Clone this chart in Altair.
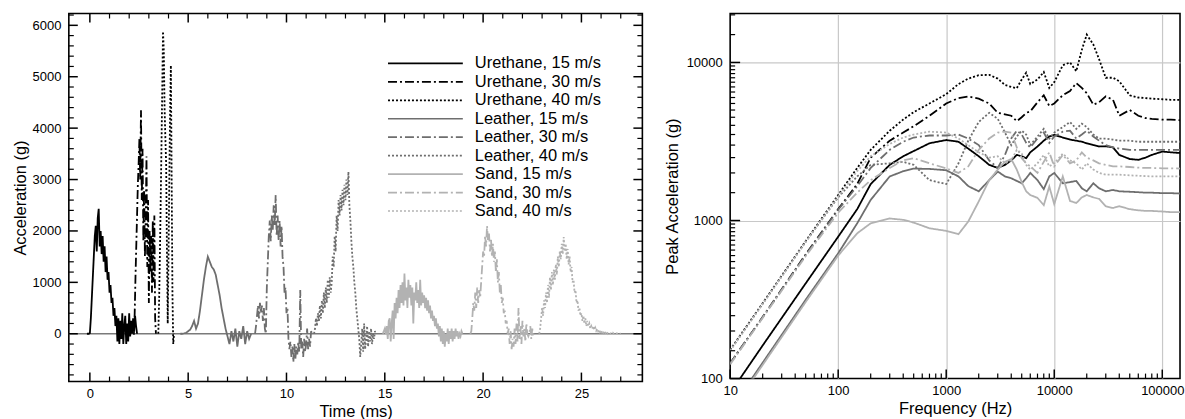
import altair as alt
import pandas as pd

FONT = "Liberation Sans"
TICK_COLOR = "#000000"

SERIES = ["Urethane, 15 m/s", "Urethane, 30 m/s", "Urethane, 40 m/s",
          "Leather, 15 m/s", "Leather, 30 m/s", "Leather, 40 m/s",
          "Sand, 15 m/s", "Sand, 30 m/s", "Sand, 40 m/s"]
COLORS = ["#000000", "#000000", "#000000",
          "#6e6e6e", "#6e6e6e", "#6e6e6e",
          "#b2b2b2", "#b2b2b2", "#b2b2b2"]
DASHES = [[1, 0], [9, 3, 2, 3], [2, 2],
          [1, 0], [9, 3, 2, 3], [2, 2],
          [1, 0], [9, 3, 2, 3], [2, 2]]

U15_T0, U15_DT = -0.15, 0.05
U15_ACC = [0, 0, 0, 10, 300, 700, 1100, 1500, 1900, 2100, 1600, 2250, 2430, 1700, 2000, 1550,
           1900, 1400, 1700, 1200, 1500, 1050, 1200, 800, 950, 600, 700, 350, 500, 150, 350,
           -150, 300, -200, 250, -100, 400, -200, 150, 350, -200, 200, -150, 400, -50, 250,
           0, 300, 50, 350, 150, 0]
U30_T0, U30_DT = 2.20, 0.04
U30_ACC = [0, 0, 400, 1100, 1700, 2300, 2900, 3300, 3800, 3000, 4350, 2600, 3600, 1800, 2800,
           1500, 2200, 3450, 1300, 2600, 600, 2000, 1200, 1900, 800, 2200, 1000, 2300, 300, 0]
U40_T0, U40_DT = 3.48, 0.04
U40_ACC = [0, 600, 1500, 2500, 3600, 4700, 5880, 5500, 4400, 3800, 3300, 1600, 200, 1500,
           3000, 4300, 5220, 3000, 800, -200, 0]
L15_T0, L15_DT = 4.6, 0.1
L15_ACC = [0, 0, 10, 20, 50, 80, 150, 250, 100, 200, 450, 750, 1050, 1300, 1500, 1400, 1300,
           1250, 1150, 950, 750, 500, 300, 100, -50, -200, 50, -150, 100, -250, 50, -100, 150,
           -200, 50, -100, 0]
L30_T0, L30_DT = 8.40, 0.05
L30_ACC = [0, 150, 350, 550, 300, 600, 400, 550, 250, 500, 100, 0, 900, 1400, 1900, 2200,
           1800, 2300, 2000, 2500, 2100, 2700, 1900, 2300, 1800, 2200, 1700, 2100, 1500, 1300,
           800, 900, 400, 500, -100, -300, -150, -450, -250, -550, -200, -500, -250, -400,
           -150, -350, 850, -300, -150, -450, -100, -350, -200, 100, -300, -100, -250, 50, 0]
L40_T0, L40_DT = 11.40, 0.05
L40_ACC = [0, 100, 300, 150, 400, 250, 550, 300, 650, 400, 800, 500, 900, 600, 1050, 700, 1100,
           800, 1000, 1500, 1300, 1900, 1600, 2300, 2000, 2600, 2300, 2700, 2400, 2800, 2500,
           2900, 2600, 3000, 2700, 3150, 2500, 2200, 1800, 1500, 1300, 1000, 800, 500, 300, 100,
           -100, -450, -200, 100, -350, 200, -300, -100, 150, -250, 50, -150, 100, -200, 0,
           -100, 50, 0]
S15_T0, S15_DT = 14.90, 0.05
S15_ACC = [0, 50, 100, 0, 150, -100, 250, 300, -150, 200, 450, -100, 600, 300, 700, 400, 850,
           500, 950, 600, 1000, 550, 1170, 650, 900, 500, 1050, 700, 950, 550, 900, 200, 800,
           650, 1000, 600, 850, 500, 1050, 550, 800, 600, 750, 500, 700, 450, 650, 400, 550,
           300, 450, 250, 350, 150, 300, 100, 200, -50, 150, -150, 100, -200, 50, -250, 0,
           -150, 100, -200, 50, -100, 100, -150, 50, -100, 100, -50, 50, -100, 0, -50, 50, 0]
S30_T0, S30_DT = 19.35, 0.05
S30_ACC = [0, 50, 300, 600, 450, 800, 500, 900, 600, 850, 700, 1000, 1300, 1600, 1500, 1900,
           1700, 2100, 1800, 1950, 1600, 1850, 1500, 1750, 1400, 1600, 1200, 1450, 1000, 1200,
           800, 950, 600, 700, 400, 450, 200, 250, 0, 100, -200, 50, -300, -100, -250, 100,
           -200, 200, -150, 500, -100, 150, -200, 250, -50, 100, -150, 200, 0, -50, 0, 150,
           -100, 100, -50, 0]
S40_T0, S40_DT = 22.85, 0.05
S40_ACC = [0, 100, 300, 500, 350, 650, 500, 800, 600, 950, 700, 1100, 850, 1200, 950, 1250,
           1050, 1350, 1150, 1500, 1300, 1600, 1450, 1750, 1550, 1880, 1600, 1750, 1450, 1650,
           1350, 1500, 1200, 1300, 1000, 1050, 800, 850, 600, 650, 450, 500, 350, 400, 250,
           350, 200, 300, 150, 250, 150, 200, 100, 150, 100, 150, 80, 120, 60, 100, 50, 80, 30,
           60, 20, 50, 10, 40, 0, 30, 0, 20, 0, 10, 0, 20, 0, 10, 0, 10, 0, 0, 0, 0]

SRS_FREQ = [10, 20, 50, 100, 150, 200, 300, 400, 500, 700, 1000, 1300, 1600, 2000, 2500, 3000,
            3500, 4000, 4500, 5000, 5500, 6000, 7000, 8000, 9000, 10000, 12000, 14000, 16000,
            18000, 20000, 23000, 26000, 30000, 35000, 40000, 50000, 60000, 70000, 80000,
            100000, 120000, 150000]
SRS_U15 = [81, 162, 400, 790, 1180, 1700, 2250, 2550, 2750, 3080, 3230, 3150, 2850, 2550, 2250,
           2150, 2250, 2400, 2600, 2550, 2480, 2700, 2940, 3200, 3400, 3480, 3350, 3250, 3200,
           3150, 3080, 3000, 2940, 2950, 2900, 2600, 2450, 2420, 2500, 2600, 2730, 2700, 2670]
SRS_U30 = [125, 245, 610, 1180, 1700, 2500, 3200, 3600, 3950, 4600, 5500, 5950, 6100, 5900,
           5500, 4800, 4700, 4600, 4250, 4500, 4800, 4900, 5600, 6200, 5300, 5500, 6200, 6600,
           7400, 6900, 6400, 5400, 5600, 6100, 5800, 4600, 5000, 4600, 4450, 4400, 4350, 4350,
           4300]
SRS_U40 = [152, 300, 740, 1450, 2150, 2800, 3700, 4350, 4850, 5500, 6300, 7300, 7900, 8300,
           8350, 7900, 7200, 7000, 6870, 7800, 8600, 7300, 7800, 8700, 6900, 7500, 9600, 10000,
           8800, 12000, 15000, 13000, 10500, 8000, 8000, 7600, 6200, 6000, 5950, 5900, 5850,
           5800, 5800]
SRS_L15 = [63, 126, 315, 620, 960, 1350, 1900, 2050, 2130, 2120, 2080, 1900, 1650, 1530, 1800,
           2040, 1900, 1850, 1780, 1720, 1850, 2000, 1800, 1580, 1900, 2000, 1720, 1750, 1780,
           1600, 1530, 1720, 1600, 1530, 1560, 1530, 1520, 1510, 1500, 1500, 1490, 1490, 1480]
SRS_L30 = [125, 245, 605, 1170, 1650, 2150, 2800, 3150, 3350, 3450, 3450, 3500, 3300, 3000,
           2400, 2150, 2600, 3300, 3700, 3500, 3100, 2900, 3300, 3600, 3100, 3400, 3650, 3700,
           3300, 3500, 3700, 3400, 3200, 3000, 2900, 2850, 2800, 2800, 2800, 2800, 2800, 2800,
           2800]
SRS_L40 = [151, 298, 735, 1400, 1900, 2250, 2300, 2350, 2250, 1800, 1700, 2300, 3200, 4200,
           4800, 4400, 3600, 3000, 3400, 3700, 3500, 3000, 3400, 3800, 3300, 3600, 3900, 4200,
           3800, 4100, 3900, 3500, 3300, 3300, 3250, 3200, 3200, 3150, 3150, 3150, 3150, 3150,
           3150]
SRS_S15 = [61, 122, 305, 600, 830, 960, 1030, 1010, 970, 893, 860, 820, 985, 1320, 1800, 2100,
           2350, 2450, 2100, 1750, 1530, 1450, 1390, 1250, 1640, 1270, 1900, 1330, 1290, 1400,
           1450, 1400, 1370, 1230, 1200, 1230, 1180, 1160, 1150, 1150, 1140, 1130, 1130]
SRS_S30 = [123, 242, 595, 1120, 1500, 1800, 2150, 2400, 2480, 2300, 2140, 2000, 2200, 2800,
           3300, 3600, 3650, 3600, 2900, 2480, 2300, 2200, 2000, 2350, 2700, 2200, 2600, 2300,
           2400, 2700, 2500, 2400, 2300, 2250, 2200, 2200, 2180, 2160, 2150, 2150, 2140, 2140,
           2130]
SRS_S40 = [150, 296, 730, 1420, 2050, 2550, 3050, 3350, 3500, 3650, 3600, 3300, 3000, 2700,
           2500, 2550, 2300, 2400, 2800, 2650, 2250, 2100, 2300, 2600, 2200, 2300, 2650, 2400,
           2300, 2100, 2300, 2100, 2000, 1950, 1950, 1950, 1930, 1920, 1910, 1900, 1900, 1900,
           1900]

TIME_MAJOR = [0, 5, 10, 15, 20, 25]
TIME_MINOR = [1, 2, 3, 4, 6, 7, 8, 9, 11, 12, 13, 14, 16, 17, 18, 19, 21, 22, 23, 24, 26, 27]
ACC_MAJOR = [0, 1000, 2000, 3000, 4000, 5000, 6000]
ACC_MINOR = [-800, -600, -400, -200, 200, 400, 600, 800, 1200, 1400, 1600, 1800, 2200, 2400,
             2600, 2800, 3200, 3400, 3600, 3800, 4200, 4400, 4600, 4800, 5200, 5400, 5600,
             5800, 6200]
FREQ_MAJOR = [10, 100, 1000, 10000, 100000]
FREQ_MINOR = [20, 30, 40, 50, 60, 70, 80, 90, 200, 300, 400, 500, 600, 700, 800, 900,
              2000, 3000, 4000, 5000, 6000, 7000, 8000, 9000,
              20000, 30000, 40000, 50000, 60000, 70000, 80000, 90000]
PEAK_MAJOR = [100, 1000, 10000]
PEAK_MINOR = [150, 200, 250, 300, 350, 400, 450, 500, 550, 600, 650, 700, 750, 800, 850, 900,
              950, 1500, 2000, 2500, 3000, 3500, 4000, 4500, 5000, 5500, 6000, 6500, 7000,
              7500, 8000, 8500, 9000, 9500, 15000, 20000]

TS = [(U15_T0, U15_DT, U15_ACC), (U30_T0, U30_DT, U30_ACC), (U40_T0, U40_DT, U40_ACC),
      (L15_T0, L15_DT, L15_ACC), (L30_T0, L30_DT, L30_ACC), (L40_T0, L40_DT, L40_ACC),
      (S15_T0, S15_DT, S15_ACC), (S30_T0, S30_DT, S30_ACC), (S40_T0, S40_DT, S40_ACC)]
rows = []
for name, (t0, dt, vals) in zip(SERIES, TS):
    for i, v in enumerate(vals):
        rows.append({"t": round(t0 + i * dt, 4), "acc": v, "series": name})
ts_df = pd.DataFrame(rows)

SRS = [SRS_U15, SRS_U30, SRS_U40, SRS_L15, SRS_L30, SRS_L40, SRS_S15, SRS_S30, SRS_S40]
srows = []
for name, vals in zip(SERIES, SRS):
    for f, a in zip(SRS_FREQ, vals):
        srows.append({"freq": f, "peak": a, "series": name})
srs_df = pd.DataFrame(srows)

leg_df = pd.DataFrame({"series": SERIES, "row": list(range(len(SERIES)))})
zero_df = pd.DataFrame({"acc": [0]})

color_scale = alt.Scale(domain=SERIES, range=COLORS)
dash_scale = alt.Scale(domain=SERIES, range=DASHES)


def label_axis(orient, values, title, labelpad, titlepad):
    return alt.Axis(orient=orient, values=values, ticks=False, labels=True, domain=False,
                    grid=False, format="d", labelPadding=labelpad, labelFlush=False,
                    labelOverlap=False, title=title, titlePadding=titlepad, zindex=2)


def x_ticks(values, scale, y0, y1, width=1.5):
    return alt.Chart(pd.DataFrame({"v": values})).mark_rule(
        color=TICK_COLOR, strokeWidth=width).encode(
        x=alt.X("v:Q", scale=scale, axis=None), y=alt.value(y0), y2=alt.value(y1))


def y_ticks(values, scale, x0, x1, width=1.5):
    return alt.Chart(pd.DataFrame({"v": values})).mark_rule(
        color=TICK_COLOR, strokeWidth=width).encode(
        y=alt.Y("v:Q", scale=scale, axis=None), x=alt.value(x0), x2=alt.value(x1))


W1, H1 = 575, 369
xs = alt.Scale(domain=[-1.07, 28.1], nice=False, zero=False)
ys = alt.Scale(domain=[-930, 6230], nice=False, zero=False)

zero_rule = alt.Chart(zero_df).mark_rule(color="#7a7a7a", strokeWidth=1.4).encode(
    y=alt.Y("acc:Q", scale=ys, axis=None))

ts_lines = alt.Chart(ts_df).mark_line(strokeWidth=1.8, clip=True).encode(
    x=alt.X("t:Q", scale=xs, axis=label_axis("bottom", TIME_MAJOR, "Time (ms)", 6, 3)),
    y=alt.Y("acc:Q", scale=ys, axis=label_axis("left", ACC_MAJOR, "Acceleration (g)", 8, 4)),
    color=alt.Color("series:N", scale=color_scale, legend=None),
    strokeDash=alt.StrokeDash("series:N", scale=dash_scale, legend=None),
)

left_ticks = [
    x_ticks(TIME_MAJOR, xs, H1, H1 - 9), x_ticks(TIME_MAJOR, xs, 0, 9),
    x_ticks(TIME_MINOR, xs, H1, H1 - 5, 1.2), x_ticks(TIME_MINOR, xs, 0, 5, 1.2),
    y_ticks(ACC_MAJOR, ys, 0, 9), y_ticks(ACC_MAJOR, ys, W1, W1 - 9),
    y_ticks(ACC_MINOR, ys, 0, 5, 1.2), y_ticks(ACC_MINOR, ys, W1, W1 - 5, 1.2),
]

leg_y = alt.Y("row:Q", scale=alt.Scale(domain=[0, 8], range=[50, 198]), axis=None)
leg_rules = alt.Chart(leg_df).mark_rule(strokeWidth=1.7).encode(
    x=alt.value(320), x2=alt.value(395), y=leg_y,
    color=alt.Color("series:N", scale=color_scale, legend=None),
    strokeDash=alt.StrokeDash("series:N", scale=dash_scale, legend=None))
leg_text = alt.Chart(leg_df).mark_text(align="left", baseline="middle", fontSize=16.5,
                                       font=FONT, color="#000").encode(
    x=alt.value(407), y=leg_y, text="series:N")

left = alt.layer(zero_rule, ts_lines, *left_ticks, leg_rules, leg_text).resolve_scale(
    x="independent", y="independent").properties(width=W1, height=H1)

W2, H2 = 451, 366
fs = alt.Scale(type="log", domain=[10, 146000], nice=False)
ps = alt.Scale(type="log", domain=[100, 20400], nice=False)

grid_x = alt.Axis(orient="bottom", values=[100, 1000, 10000, 100000], grid=True,
                  gridColor="#c8c8c8", gridWidth=1.2, ticks=False, labels=False,
                  domain=False, title=None, zindex=0)
grid_y = alt.Axis(orient="left", values=[1000, 10000], grid=True,
                  gridColor="#c8c8c8", gridWidth=1.2, ticks=False, labels=False,
                  domain=False, title=None, zindex=0)

grid_layer = alt.Chart(srs_df).mark_line(strokeOpacity=0).encode(
    x=alt.X("freq:Q", scale=fs, axis=grid_x),
    y=alt.Y("peak:Q", scale=ps, axis=grid_y),
    detail="series:N")

srs_lines = alt.Chart(srs_df).mark_line(strokeWidth=1.8, clip=True).encode(
    x=alt.X("freq:Q", scale=fs, axis=label_axis("bottom", FREQ_MAJOR, "Frequency (Hz)", 6, 3)),
    y=alt.Y("peak:Q", scale=ps, axis=label_axis("left", PEAK_MAJOR, "Peak Acceleration (g)", 8, 6)),
    color=alt.Color("series:N", scale=color_scale, legend=None),
    strokeDash=alt.StrokeDash("series:N", scale=dash_scale, legend=None),
)

right_ticks = [
    x_ticks(FREQ_MAJOR, fs, H2, H2 - 9), x_ticks(FREQ_MINOR, fs, H2, H2 - 5, 1.2),
    y_ticks(PEAK_MAJOR, ps, 0, 10), y_ticks(PEAK_MINOR, ps, 0, 5, 1.2),
]

right = alt.layer(grid_layer, srs_lines, *right_ticks).resolve_axis(
    x="independent", y="independent").properties(width=W2, height=H2)

chart = alt.hconcat(left, right, spacing=19).properties(
    padding={"left": 11, "top": 11, "right": 0, "bottom": 0}
).configure_view(stroke="#000", strokeWidth=1.6).configure_axis(
    labelFont=FONT, titleFont=FONT, labelFontSize=13, titleFontSize=16.5,
    titleFontWeight="normal", labelColor="#000", titleColor="#000")

chart.save("out.html", embed_options={"renderer": "svg", "actions": False})
